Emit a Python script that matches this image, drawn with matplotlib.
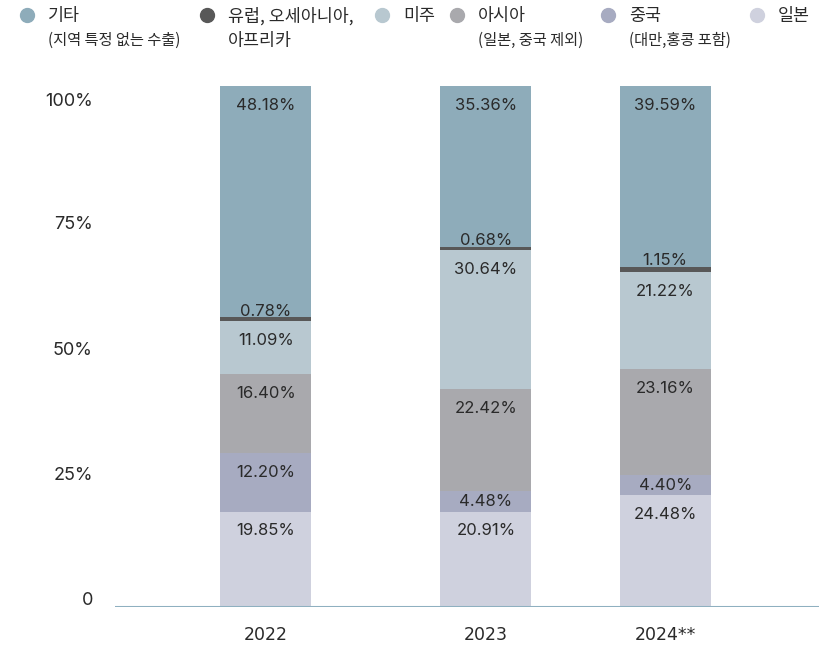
import matplotlib

matplotlib.use("Agg")
import matplotlib.pyplot as plt
from matplotlib.lines import Line2D
import numpy as np

plt.rcParams["font.family"] = ["Noto Sans CJK KR", "DejaVu Sans"]

# values per region, in % as printed on the chart (bars are drawn as shares of the column total)
years = ["2022", "2023", "2024**"]
japan = [19.85, 20.91, 24.48]
china = [12.20, 4.48, 4.40]
asia = [16.40, 22.42, 23.16]
americas = [11.09, 30.64, 21.22]
europe = [0.78, 0.68, 1.15]
other = [48.18, 35.36, 39.59]

series_names = ["일본", "중국", "아시아", "미주", "유럽, 오세아니아,\n아프리카", "기타"]
series_values = [japan, china, asia, americas, europe, other]
colors = ["#cfd1de", "#a7abc1", "#a9a9ad", "#b8c8d0", "#585858", "#8eacba"]

ytick_labels = ["0", "25%", "50%", "75%", "100%"]

# layout
x_pos = np.array([0.0, 1.0, 1.815])
bar_w = 0.414
ytick_pos = [1.7, 25.7, 49.6, 73.8, 97.5]
text_col = "#2a2a2a"

fig = plt.figure(figsize=(8.19, 6.47), dpi=100)
ax = fig.add_axes([115 / 819, 40 / 647, 704 / 819, 521 / 647])

vals = np.array(series_values, dtype=float)
shares = vals / vals.sum(axis=0) * 100
px_per_unit = 521 / 100

bottom = np.zeros(len(years))
for name, raw, sh, col in zip(series_names, vals, shares, colors):
    ax.bar(x_pos, sh, bar_w, bottom=bottom, color=col, linewidth=0)
    for x, b, h, v in zip(x_pos, bottom, sh, raw):
        top = b + h
        if v < 2:
            y = top + 6 / px_per_unit
        else:
            y = max(top - 19 / px_per_unit, b + h / 2)
        ax.text(x, y, f"{v:.2f}%", ha="center", va="center", fontsize=12,
                color=text_col, family=["Inter", "DejaVu Sans"])
    bottom = bottom + sh

ax.axhline(0, color="#8fb0c0", lw=2.2, zorder=3)
ax.set_xlim(-0.686, 2.514)
ax.set_ylim(0, 100)
for s in ax.spines.values():
    s.set_visible(False)
ax.set_yticks(ytick_pos)
ax.set_yticklabels(ytick_labels, fontsize=13, color=text_col, family=["Inter", "DejaVu Sans"])
ax.set_xticks(x_pos)
ax.set_xticklabels(years, fontsize=12.5, color=text_col,
                   family=["Liberation Sans Narrow", "DejaVu Sans"])
ax.tick_params(axis="y", length=0, pad=16)
ax.tick_params(axis="x", length=0, pad=13.5)

# legend drawn by hand: marker + main label + sub label
legend_sub = ["", "(대만,홍콩 포함)", "(일본, 중국 제외)", "", "", "(지역 특정 없는 수출)"]
legend_x = [757, 608, 457, 382, 207, 27]
for name, sub, col, lx in zip(series_names, legend_sub, colors, legend_x):
    fig.add_artist(Line2D([lx / 819], [1 - 15 / 647], marker="o", markersize=10,
                          color=col, linestyle="none", transform=fig.transFigure))
    lines = name.split("\n")
    fig.text((lx + 21) / 819, 1 - 16 / 647, lines[0], fontsize=12.5, color=text_col,
             ha="left", va="center")
    if len(lines) > 1:
        fig.text((lx + 21) / 819, 1 - 41 / 647, lines[1], fontsize=12.5, color=text_col,
                 ha="left", va="center")
    if sub:
        fig.text((lx + 21) / 819, 1 - 40 / 647, sub, fontsize=11, color=text_col,
                 ha="left", va="center")

fig.savefig("out.png", dpi=100)
